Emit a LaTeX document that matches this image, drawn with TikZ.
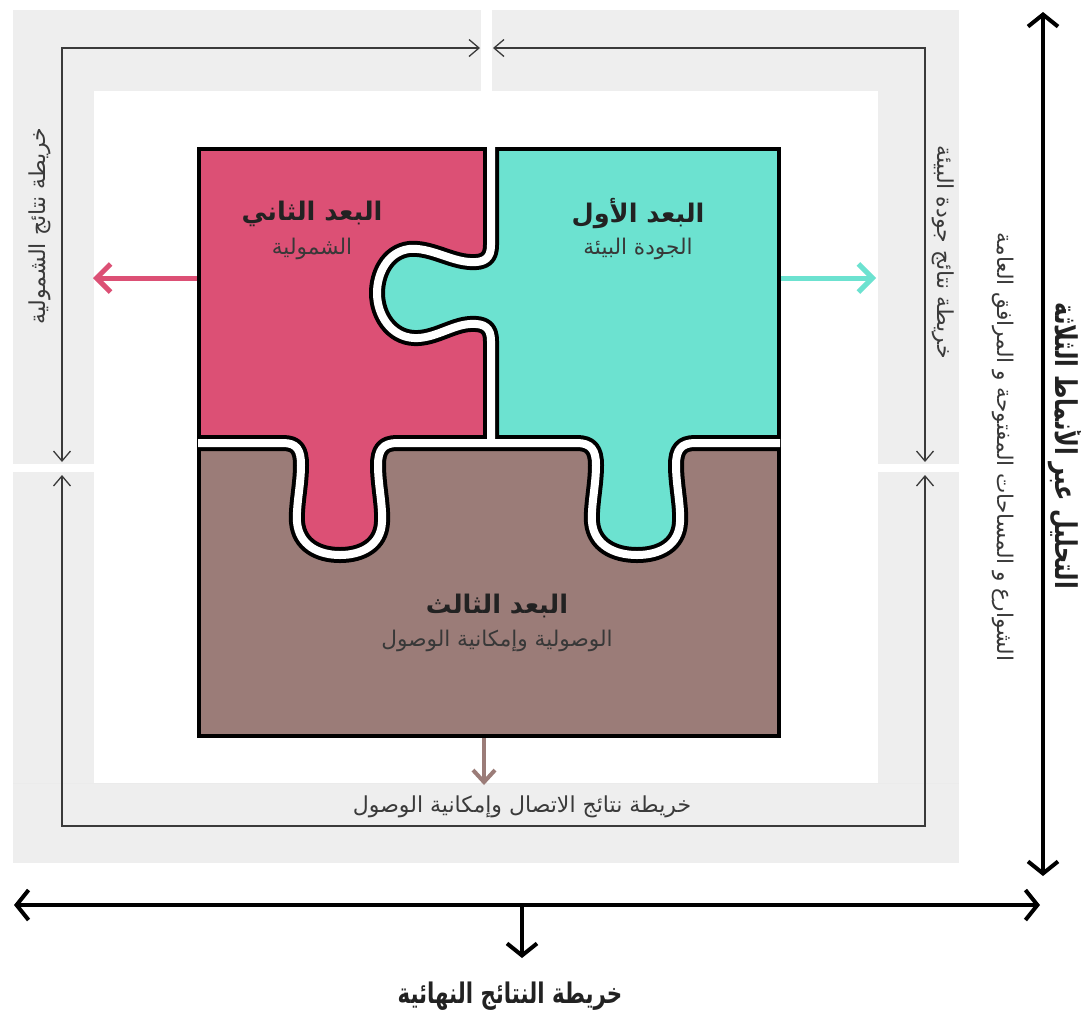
\documentclass[tikz,border=0pt]{standalone}
\usepackage{fontspec}
\usepackage{tikz}
\usetikzlibrary{arrows.meta}
\newfontfamily\arabicfont[Script=Arabic]{DejaVu Sans}
\newfontfamily\arabicnarrow[Script=Arabic,FakeStretch=0.75]{DejaVu Sans}
\TeXXeTstate=1
\definecolor{pieceOne}{HTML}{6CE2D0}
\definecolor{pieceTwo}{HTML}{DC5075}
\definecolor{pieceThree}{HTML}{9B7C78}
\definecolor{frameGray}{HTML}{EEEEEE}
\definecolor{lineColor}{HTML}{3A3A3A}
\definecolor{textColor}{HTML}{222222}
\newcommand{\rtl}[1]{\beginR #1\endR}
% seam between the two upper pieces (knob of the first piece)
\newcommand{\knobside}{-- (491,245)
  .. controls (491,258) and (485,263) .. (470,262)
  .. controls (450,261) and (430,247) .. (409,249)
  .. controls (387,252) and (377,274) .. (377,293)
  .. controls (377,315) and (391,337) .. (414,338)
  .. controls (434,339) and (452,325) .. (470,324)
  .. controls (485,323) and (491,328) .. (491,341)
  -- (491,443)}
% seam above the third piece (two knobs)
\newcommand{\knobrow}{-- (283,443)
  .. controls (297,443) and (301,450) .. (301,465)
  .. controls (301,485) and (296,505) .. (297,522)
  .. controls (299,545) and (318,555) .. (340,555)
  .. controls (362,555) and (381,545) .. (382,522)
  .. controls (383,505) and (378,485) .. (378,465)
  .. controls (378,450) and (383,443) .. (397,443)
  -- (577,443)
  .. controls (591,443) and (596,450) .. (596,465)
  .. controls (596,485) and (591,505) .. (592,522)
  .. controls (594,545) and (614,555) .. (637,555)
  .. controls (660,555) and (679,545) .. (680,522)
  .. controls (681,505) and (676,485) .. (676,465)
  .. controls (676,450) and (681,443) .. (695,443)
  -- (780,443)}

\begin{document}
\begin{tikzpicture}[x=0.5pt,y=-0.5pt,
  panel/.style={fill=frameGray},
  gap/.style={fill=white},
  frameline/.style={draw=lineColor,line width=0.65pt,>={Straight Barb[length=5pt,width=8.5pt]}},
  pieceedge/.style={draw=black,line width=8pt,line join=round},
  seam/.style={draw=white,line width=4pt,line join=round},
  puzzleborder/.style={draw=black,line width=2pt},
  outarrow/.style={line width=2.5pt,->,>={Straight Barb[length=7pt,width=14pt]}},
  bigarrow/.style={draw=black,line width=2pt,>={Straight Barb[length=6pt,width=15pt]}},
  title/.style={font=\arabicfont\bfseries\fontsize{12.8}{15}\selectfont,text=textColor},
  subtitle/.style={font=\arabicfont\fontsize{10.8}{13}\selectfont,text=textColor!90},
  maplabel/.style={font=\arabicfont\fontsize{11}{13}\selectfont,text=lineColor}]
\useasboundingbox (0,0) rectangle (1081,1019);

% frame
\fill[panel] (13,10) rectangle (959,863);
\fill[white] (94,91) rectangle (878,783);
\fill[gap] (481,10) rectangle (492,91);
\fill[gap] (13,464) rectangle (94,472);
\fill[gap] (878,464) rectangle (959,472);
\draw[black!8,line width=0.5pt] (13,783) -- (959,783);

\draw[frameline,<->] (62,462) -- (62,48) -- (480,48);
\draw[frameline,<->] (493,48) -- (925,48) -- (925,462);
\draw[frameline,<->] (62,475) -- (62,826) -- (925,826) -- (925,475);

\node[maplabel,rotate=90] (mapTwo) at (40,226) {\rtl{خريطة نتائج الشمولية}};
\node[maplabel,rotate=-90] (mapOne) at (943,252) {\rtl{خريطة نتائج جودة البيئة}};
\node[maplabel] (mapThree) at (522,807) {\rtl{خريطة نتائج الاتصال وإمكانية الوصول}};

% puzzle
\begin{scope}
\clip (199,149) rectangle (779,736);
\fill[pieceTwo] (190,140) -- (491,147) \knobside -- (491,745) -- (190,745) -- cycle;
\fill[pieceOne] (491,147) \knobside -- (491,745) -- (790,745) -- (790,140) -- cycle;
\fill[pieceThree] (198,443) \knobrow -- (790,745) -- (190,745) -- cycle;
\end{scope}
\draw[puzzleborder] (199,149) rectangle (779,736);
\draw[pieceedge] (491,147) \knobside;
\draw[pieceedge] (198,443) \knobrow;
\draw[seam] (491,147) \knobside;
\draw[seam] (198,443) \knobrow;

\node[title] (titleTwo) at (312,214) {\rtl{البعد الثاني}};
\node[subtitle] (subTwo) at (312,249) {\rtl{الشمولية}};
\node[title] (titleOne) at (638,214) {\rtl{البعد الأول}};
\node[subtitle] (subOne) at (638,249) {\rtl{الجودة البيئة}};
\node[title] (titleThree) at (497,606) {\rtl{البعد الثالث}};
\node[subtitle] (subThree) at (497,641) {\rtl{الوصولية وإمكانية الوصول}};

\coordinate (outTwo) at (197,278);
\coordinate (outOne) at (781,278);
\coordinate (outThree) at (484,738);
\draw[outarrow,draw=pieceTwo] (outTwo) -- (93,278);
\draw[outarrow,draw=pieceOne] (outOne) -- (876,278);
\draw[outarrow,draw=pieceThree,line width=2pt,>={Straight Barb[length=6pt,width=11pt]}] (outThree) -- (484,785);

% axes
\draw[bigarrow,<->] (1043,12) -- (1043,876);
\draw[bigarrow,<->] (14,905) -- (1040,905);
\draw[bigarrow,->] (522,905) -- (522,958);

\node[title,font=\arabicnarrow\bfseries\fontsize{15}{17}\selectfont,rotate=-90] (axisTitle) at (1066,446) {\rtl{التحليل عبر الأنماط الثلاثة}};
\node[subtitle,rotate=-90] (axisSub) at (1003,447) {\rtl{الشوارع و المساحات المفتوحة و المرافق العامة}};
\node[title,font=\arabicnarrow\bfseries\fontsize{14.2}{16}\selectfont] (result) at (510,996) {\rtl{خريطة النتائج النهائية}};
\end{tikzpicture}
\end{document}
